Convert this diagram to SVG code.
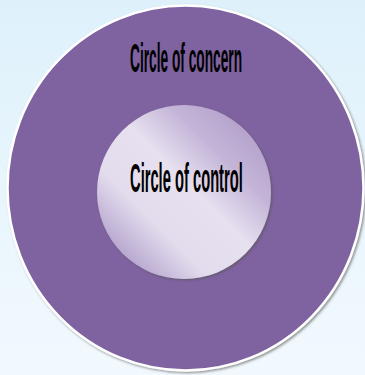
<svg xmlns="http://www.w3.org/2000/svg" width="365" height="375" viewBox="0 0 365 375">
  <defs>
    <linearGradient id="bg" x1="0" y1="0" x2="0" y2="1">
      <stop offset="0" stop-color="#def1fb"/>
      <stop offset="1" stop-color="#f2f9fe"/>
    </linearGradient>
    <linearGradient id="inner" x1="0.15" y1="0.85" x2="0.85" y2="0.15">
      <stop offset="0" stop-color="#b9a9d0"/>
      <stop offset="0.25" stop-color="#e3dced"/>
      <stop offset="0.55" stop-color="#e6e0ef"/>
      <stop offset="0.8" stop-color="#c4b5d8"/>
      <stop offset="1" stop-color="#b6a4cd"/>
    </linearGradient>
    <filter id="shadow" x="-10%" y="-10%" width="120%" height="120%">
      <feDropShadow dx="1.5" dy="1.5" stdDeviation="1" flood-color="#555" flood-opacity="0.6"/>
    </filter>
  </defs>
  <style>
    .label { font-family: "Liberation Sans", Arial, sans-serif; font-weight: bold; font-size: 40px; fill: #000; }
  </style>
  <rect x="0" y="0" width="365" height="375" fill="url(#bg)"/>
  <g id="concern">
    <ellipse cx="185.5" cy="188" rx="178" ry="182.5" fill="#7f62a0" stroke="#ffffff" stroke-width="2.5" filter="url(#shadow)"/>
    <g transform="translate(130,72) scale(0.343,1)">
      <text class="label" x="0" y="0">Circle of concern</text>
    </g>
  </g>
  <g id="control">
    <circle cx="184" cy="192" r="87" fill="url(#inner)" filter="url(#shadow)"/>
    <g transform="translate(130,192) scale(0.368,1)">
      <text class="label" x="0" y="0">Circle of control</text>
    </g>
  </g>
  <g id="connectors"/>
</svg>
